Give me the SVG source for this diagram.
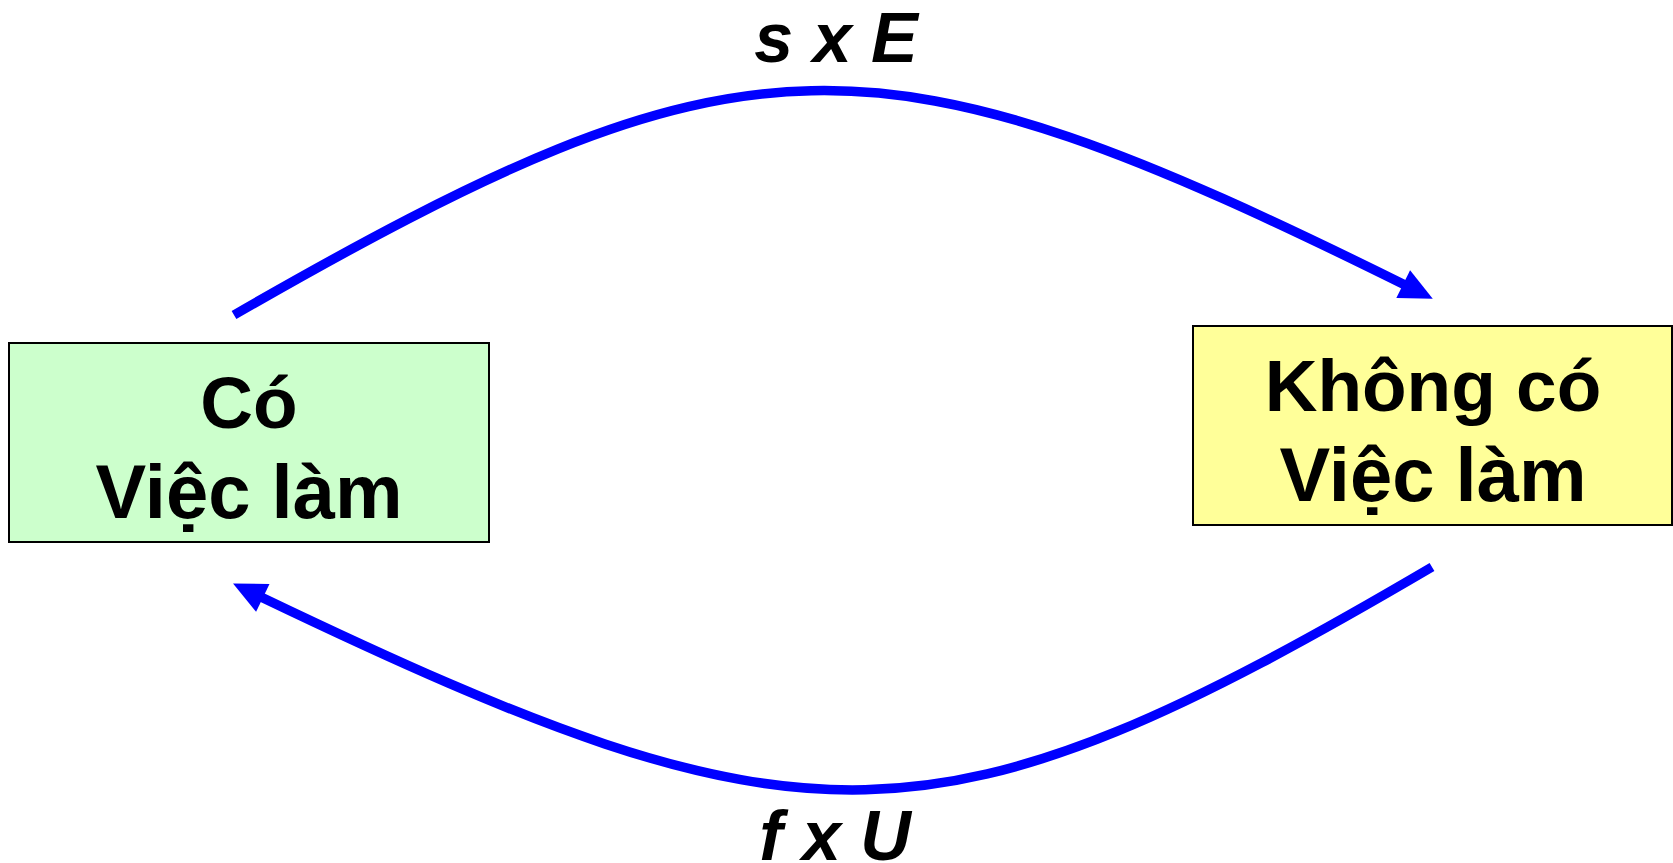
<svg xmlns="http://www.w3.org/2000/svg" width="1673" height="863" viewBox="0 0 1673 863">
<style>
.box{stroke:#000;stroke-width:2}
.t{font-family:"Liberation Sans",Arial,sans-serif;font-weight:bold;font-size:73px;fill:#000;text-anchor:middle}
.t2{font-size:76px}
.lbl{font-family:"Liberation Sans",Arial,sans-serif;font-weight:bold;font-style:italic;font-size:70px;fill:#000;text-anchor:middle}
.arc{fill:none;stroke:#0000FF;stroke-width:9.5;marker-end:url(#ah)}
</style>
<defs>
<marker id="ah" markerUnits="userSpaceOnUse" markerWidth="40" markerHeight="40" viewBox="0 -20 40 40" refX="0" refY="0" orient="auto" overflow="visible">
<path d="M-2,-15.5 L31,0 L-2,15.5 Z" fill="#0000FF"/>
</marker>
</defs>
<rect width="1673" height="863" fill="#fff"/>
<g id="connectors">
<path class="arc" d="M234,315 C745,21 872,21 1405,285"/>
<path class="arc" d="M1432,567 C935,859 808,859 261,597"/>
</g>
<g id="node-co">
<rect class="box" x="9" y="343" width="480" height="199" fill="#CCFFCC"/>
<text class="t" x="249" y="428">Có</text>
<text class="t t2" x="249" y="518">Việc làm</text>
</g>
<g id="node-khong">
<rect class="box" x="1193" y="326" width="479" height="199" fill="#FFFF99"/>
<text class="t" x="1433" y="411">Không có</text>
<text class="t t2" x="1433" y="501">Việc làm</text>
</g>
<g id="label-top">
<text class="lbl" x="836" y="62">s x E</text>
</g>
<g id="label-bottom">
<text class="lbl" x="835" y="860">f x U</text>
</g>
</svg>
